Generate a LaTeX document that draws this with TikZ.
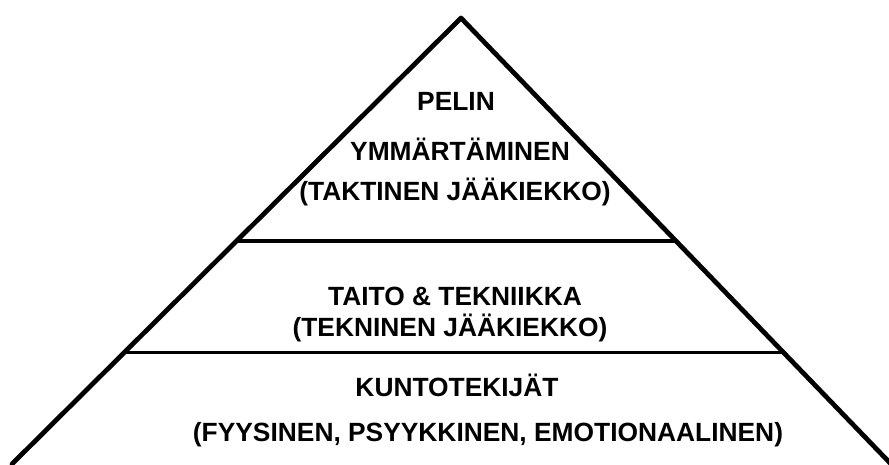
\documentclass[tikz,border=0pt]{standalone}
\usepackage{fontspec}
\setmainfont{Liberation Sans}
\usetikzlibrary{calc, positioning}

\tikzset{
  side/.style={line width=2.7pt, line cap=round, line join=round},
  layer/.style={line width=2pt},
  lbl/.style={font=\fontsize{15}{18}\selectfont\bfseries, anchor=base, inner sep=0pt}
}

\begin{document}
\begin{tikzpicture}[x=0.02cm, y=-0.02cm]
\useasboundingbox (0,0) rectangle (889,464);
\coordinate (A) at ( 12,464) {};
\coordinate (B) at (891,464) {};
\coordinate (C) at (461, 18) {};
\draw[side] (A) -- (C) -- (B);
    \foreach \y in {1,2} {
        \draw[layer] ($(A)!\y/4!(C)$) -- ($(B)!\y/4!(C)$);
    };

% The texts of the three steps, one line each
    \foreach \x/\y/\n/\A in {456/110/peli/{PELIN},
                             460/160/ymm/{YMMÄRTÄMINEN},
                             455/200/takt/{(TAKTINEN JÄÄKIEKKO)},
                             455/305/taito/{TAITO \& TEKNIIKKA},
                             450/336/tekn/{(TEKNINEN JÄÄKIEKKO)},
                             457/396/kunto/{KUNTOTEKIJÄT},
                             488/441/fyys/{(FYYSINEN, PSYYKKINEN, EMOTIONAALINEN)}
                             } {
        \node[lbl] (\n) at (\x,\y) {\A};
    }
\end{tikzpicture}
\end{document}
